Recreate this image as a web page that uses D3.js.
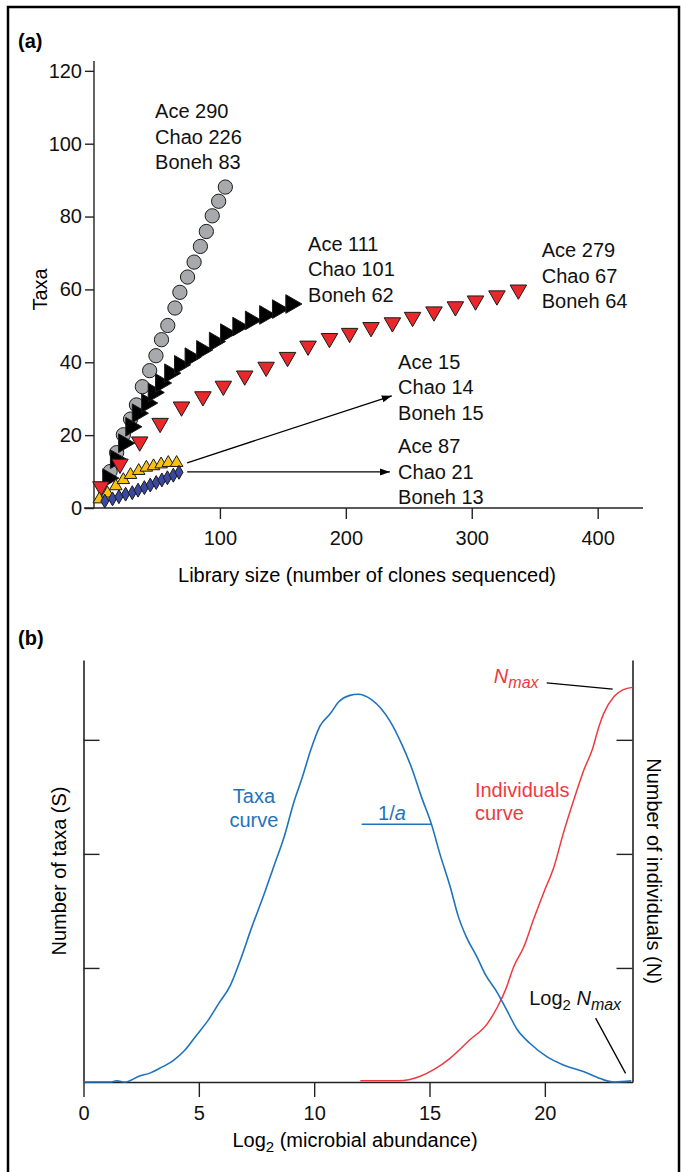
<!DOCTYPE html>
<html>
<head>
<meta charset="utf-8">
<script src="https://cdn.jsdelivr.net/npm/d3@7"></script>
<style>
  body { margin: 0; background: #fff; }
  svg text { font-family: 'Liberation Sans', Arial, Helvetica, sans-serif; }
</style>
</head>
<body>
<script>
// ---- panel (a): taxa vs library size, one array pair per library
const grayX = [12.8, 18, 23.3, 29, 33.7, 38.4, 44.2, 49.2, 53.6, 58.6, 64.3, 68.2, 74.3, 79.5, 84.5, 89.2, 93.9, 99, 104.3];
const grayY = [10, 15.2, 20.1, 24.4, 28.3, 33.3, 37.7, 41.8, 46.2, 50.1, 54.9, 59.2, 63.4, 67.5, 71.8, 75.9, 80.2, 84.2, 88.1];
const blackX = [11.2, 17.3, 23.8, 29.5, 34.7, 42.1, 47.3, 53.1, 60.4, 68.2, 76.6, 85.8, 95.9, 104.8, 114.5, 124.5, 135.8, 146, 156.6];
const blackY = [8.2, 13.4, 17.8, 22.3, 26, 28.8, 31.7, 34.3, 37, 39.3, 41.4, 43.4, 45.7, 48, 49.8, 51.5, 53, 54.6, 56];
const redX = [5.5, 20.6, 36.3, 52.5, 69.5, 86.5, 102.7, 119.7, 136.7, 153.7, 170, 187, 203, 220, 237, 253, 270, 287, 303, 320, 337];
const redY = [5.9, 12.1, 18.2, 23.3, 27.8, 30.6, 33.5, 36.3, 38.7, 41.4, 44.5, 46.6, 48, 49.6, 50.9, 52.4, 53.9, 55.3, 56.9, 58.3, 59.9];
const yellowX = [4.2, 10.7, 17.3, 23.3, 29, 35.5, 41.6, 47.3, 53.3, 59, 65.6];
const yellowY = [2.4, 4, 6, 7.7, 9.1, 10.2, 11.1, 11.5, 12, 12.4, 12.4];
const blueX = [8.6, 14.7, 19.8, 25.1, 30.4, 35, 40, 44.7, 49.4, 53.9, 58.3, 63, 67.5];
const blueY = [1.9, 2.5, 3.1, 3.8, 4.2, 4.9, 5.6, 6.3, 7, 7.7, 8.3, 9, 9.8];

const xTicksA = [100, 200, 300, 400];
const yTicksA = [0, 20, 40, 60, 80, 100, 120];

const estimates = [
  ["Ace 290", "Chao 226", "Boneh 83"],
  ["Ace 111", "Chao 101", "Boneh 62"],
  ["Ace 279", "Chao 67", "Boneh 64"],
  ["Ace 15", "Chao 14", "Boneh 15"],
  ["Ace 87", "Chao 21", "Boneh 13"]
];

// ---- panel (b): taxa and individuals curves along log2 abundance
const taxaX = [0, 0.7, 1.15, 1.45, 1.8, 2.4, 2.9, 3.3, 3.9, 4.4, 4.9, 5.4, 5.9, 6.35, 6.8, 7.3, 7.8, 8.25, 8.7, 9.1, 9.5, 9.85, 10.25, 10.7, 11.05, 11.55, 11.9, 12.5, 13.3, 13.8, 14.25, 14.65, 15.1, 15.45, 15.9, 16.25, 16.6, 17.05, 17.4, 17.95, 18.35, 18.8, 19.35, 20.1, 20.8, 21.7, 22.4, 23.0, 23.75];
const taxaY = [0, 0, 0, 0.01, 0, 0.05, 0.08, 0.12, 0.19, 0.28, 0.41, 0.54, 0.7, 0.84, 1.07, 1.36, 1.63, 1.89, 2.15, 2.44, 2.68, 2.91, 3.12, 3.23, 3.33, 3.39, 3.4, 3.35, 3.16, 2.96, 2.74, 2.5, 2.25, 2.0, 1.71, 1.45, 1.27, 1.1, 0.95, 0.78, 0.63, 0.46, 0.34, 0.22, 0.15, 0.09, 0.03, 0, 0.01];
const indivX = [12, 12.85, 13.65, 14.6, 15.2, 15.9, 16.75, 17.5, 17.95, 18.3, 18.65, 19.1, 19.5, 19.95, 20.4, 20.8, 21.25, 21.7, 22.05, 22.35, 22.55, 23.0, 23.4, 23.8];
const indivY = [0.01, 0.01, 0.01, 0.05, 0.11, 0.21, 0.37, 0.51, 0.66, 0.81, 1.01, 1.19, 1.42, 1.66, 1.89, 2.18, 2.47, 2.74, 2.91, 3.12, 3.23, 3.38, 3.44, 3.46];

const xTicksB = [0, 5, 10, 15, 20];
const yTicksB = [1, 2, 3];

const W = 683, H = 1172;
const FS = 20;

const svg = d3.select("body").append("svg")
  .attr("width", W)
  .attr("height", H);

svg.append("rect").attr("width", W).attr("height", H).attr("fill", "#fff");

// outer frame (open at the bottom, cut by the page)
svg.append("rect")
  .attr("x", 8).attr("y", 7)
  .attr("width", 671).attr("height", H + 20)
  .attr("fill", "none")
  .attr("stroke", "#000")
  .attr("stroke-width", 2.5);

const defs = svg.append("defs");
defs.append("marker")
  .attr("id", "arrow")
  .attr("viewBox", "0 0 10 10")
  .attr("refX", 10).attr("refY", 5)
  .attr("markerWidth", 10).attr("markerHeight", 10)
  .attr("markerUnits", "userSpaceOnUse")
  .attr("orient", "auto")
  .append("path")
  .attr("d", "M0,1.5 L10,5 L0,8.5 Z")
  .attr("fill", "#000");

// ================= panel (a) =================
const xA = d3.scaleLinear().domain([0, 436]).range([94, 643]);
const yA = d3.scaleLinear().domain([0, 122.7]).range([508, 61]);

const gA = svg.append("g");

gA.append("text")
  .attr("x", 18).attr("y", 48)
  .attr("font-size", FS).attr("font-weight", "bold")
  .text("(a)");

// axes
const axisA_y = gA.append("g")
  .attr("transform", `translate(${xA(0)},0)`)
  .call(d3.axisLeft(yA).tickValues(yTicksA).tickSize(9).tickPadding(3).tickSizeOuter(0));
const axisA_x = gA.append("g")
  .attr("transform", `translate(0,${yA(0)})`)
  .call(d3.axisBottom(xA).tickValues(xTicksA).tickSize(11).tickPadding(12).tickSizeOuter(0));
[axisA_x, axisA_y].forEach(ax => {
  ax.selectAll("text").attr("font-size", FS).attr("fill", "#111").attr("font-family", null);
  ax.selectAll("line").attr("stroke", "#222").attr("stroke-width", 1.4);
  ax.select(".domain").remove();
});
gA.append("line")
  .attr("x1", xA(0)).attr("x2", xA(0))
  .attr("y1", yA(122.7)).attr("y2", yA(0))
  .attr("stroke", "#222").attr("stroke-width", 1.4);
gA.append("line")
  .attr("x1", xA(-8)).attr("x2", xA(436))
  .attr("y1", yA(0)).attr("y2", yA(0))
  .attr("stroke", "#222").attr("stroke-width", 1.4);

gA.append("text")
  .attr("transform", `translate(47,${yA(60)}) rotate(-90)`)
  .attr("text-anchor", "middle")
  .attr("font-size", FS)
  .text("Taxa");
gA.append("text")
  .attr("x", 367).attr("y", 582)
  .attr("text-anchor", "middle")
  .attr("font-size", FS)
  .text("Library size (number of clones sequenced)");

// arrows from the two small libraries to their labels
const arrowsA = [
  { x1: 74, y1: 12.4, x2: 236.5, y2: 30.8 },
  { x1: 74, y1: 9.9, x2: 235, y2: 9.9 }
];
gA.selectAll("line.arrow")
  .data(arrowsA)
  .enter().append("line")
  .attr("class", "arrow")
  .attr("x1", d => xA(d.x1)).attr("y1", d => yA(d.y1))
  .attr("x2", d => xA(d.x2)).attr("y2", d => yA(d.y2))
  .attr("stroke", "#000").attr("stroke-width", 1.3)
  .attr("marker-end", "url(#arrow)");

// series, drawn back to front
const seriesA = [
  { xs: grayX, ys: grayY, type: d3.symbolCircle, size: 160, rot: 0, fill: "#a7a9ac" },
  { xs: blackX, ys: blackY, type: d3.symbolTriangle, size: 150, rot: 90, fill: "#000" },
  { xs: redX, ys: redY, type: d3.symbolTriangle, size: 118, rot: 180, fill: "#e8282b" },
  { xs: yellowX, ys: yellowY, type: d3.symbolTriangle, size: 68, rot: 0, fill: "#f8c211" },
  { xs: blueX, ys: blueY, type: d3.symbolDiamond, size: 56, rot: 0, fill: "#3a48a2" }
];

seriesA.forEach(s => {
  const pts = s.xs.map((x, i) => [x, s.ys[i]]);
  gA.append("g").selectAll("path")
    .data(pts)
    .enter().append("path")
    .attr("d", d3.symbol().type(s.type).size(s.size))
    .attr("transform", d => `translate(${xA(d[0])},${yA(d[1])}) rotate(${s.rot})`)
    .attr("fill", s.fill)
    .attr("stroke", "#1a1a1a")
    .attr("stroke-width", 1);
});

// richness estimate labels
const labelPosA = [
  { x: 48.5, y: 107 },
  { x: 170, y: 70.6 },
  { x: 355.6, y: 68.8 },
  { x: 241.5, y: 38.2 },
  { x: 241.5, y: 15 }
];
estimates.forEach((lines, i) => {
  const t = gA.append("text")
    .attr("x", xA(labelPosA[i].x))
    .attr("y", yA(labelPosA[i].y))
    .attr("font-size", FS)
    .attr("fill", "#111");
  lines.forEach((ln, j) => {
    t.append("tspan")
      .attr("x", xA(labelPosA[i].x))
      .attr("dy", j === 0 ? 0 : 25.5)
      .text(ln);
  });
});

// ================= panel (b) =================
const xB = d3.scaleLinear().domain([0, 23.8]).range([83.5, 632.5]);
const yB = d3.scaleLinear().domain([0, 3.7]).range([1082, 660]);

const gB = svg.append("g");

gB.append("text")
  .attr("x", 18).attr("y", 645)
  .attr("font-size", FS).attr("font-weight", "bold")
  .text("(b)");

const axisB_x = gB.append("g")
  .attr("transform", `translate(0,${yB(0)})`)
  .call(d3.axisBottom(xB).tickValues(xTicksB).tickSize(15).tickPadding(9).tickSizeOuter(0));
const axisB_l = gB.append("g")
  .attr("transform", `translate(${xB(0)},0)`)
  .call(d3.axisLeft(yB).tickValues(yTicksB).tickSize(-16).tickFormat("").tickSizeOuter(0));
const axisB_r = gB.append("g")
  .attr("transform", `translate(${xB(23.8)},0)`)
  .call(d3.axisRight(yB).tickValues(yTicksB).tickSize(-16).tickFormat("").tickSizeOuter(0));
[axisB_x, axisB_l, axisB_r].forEach(ax => {
  ax.selectAll("text").attr("font-size", FS).attr("fill", "#111").attr("font-family", null);
  ax.selectAll("line").attr("stroke", "#222").attr("stroke-width", 1.4);
  ax.select(".domain").attr("stroke", "#222").attr("stroke-width", 1.6);
});

// curves
const lineB = d3.line()
  .x(d => xB(d[0]))
  .y(d => yB(d[1]))
  .curve(d3.curveMonotoneX);

gB.append("path")
  .datum(indivX.map((x, i) => [x, indivY[i]]))
  .attr("d", lineB)
  .attr("fill", "none")
  .attr("stroke", "#ee3a3f")
  .attr("stroke-width", 1.5);

gB.append("path")
  .datum(taxaX.map((x, i) => [x, taxaY[i]]))
  .attr("d", lineB)
  .attr("fill", "none")
  .attr("stroke", "#1f73bd")
  .attr("stroke-width", 1.6);

// 1/a width marker
gB.append("line")
  .attr("x1", xB(12.06)).attr("x2", xB(15.1))
  .attr("y1", yB(2.26)).attr("y2", yB(2.26))
  .attr("stroke", "#1f73bd").attr("stroke-width", 1.6);
const inv = gB.append("text")
  .attr("x", xB(12.77)).attr("y", yB(2.3))
  .attr("font-size", FS).attr("fill", "#1f73bd");
inv.append("tspan").text("1/");
inv.append("tspan").attr("font-style", "italic").text("a");

// curve names
const taxaLbl = gB.append("text")
  .attr("text-anchor", "middle")
  .attr("font-size", FS).attr("fill", "#1f73bd");
["Taxa", "curve"].forEach((ln, j) => {
  taxaLbl.append("tspan")
    .attr("x", xB(7.39)).attr("y", yB(2.447) + j * 24)
    .text(ln);
});
const indLbl = gB.append("text")
  .attr("font-size", FS).attr("fill", "#ee3a3f");
["Individuals", "curve"].forEach((ln, j) => {
  indLbl.append("tspan")
    .attr("x", xB(16.97)).attr("y", yB(2.5) + j * 23)
    .text(ln);
});

// Nmax callout
const nmax = gB.append("text")
  .attr("x", xB(17.79)).attr("y", yB(3.5))
  .attr("font-size", FS).attr("fill", "#ee3a3f")
  .attr("font-style", "italic");
nmax.append("tspan").text("N");
nmax.append("tspan").attr("font-size", 16).attr("dy", 5).text("max");
gB.append("line")
  .attr("x1", xB(20.08)).attr("y1", yB(3.5))
  .attr("x2", xB(22.94)).attr("y2", yB(3.445))
  .attr("stroke", "#000").attr("stroke-width", 1.3);

// Log2 Nmax callout
const lg = gB.append("text")
  .attr("x", xB(19.32)).attr("y", yB(0.675))
  .attr("font-size", FS).attr("fill", "#111");
lg.append("tspan").text("Log");
lg.append("tspan").attr("font-size", 15).attr("dy", 5).text("2");
lg.append("tspan").attr("dy", -5).text(" ");
lg.append("tspan").attr("font-style", "italic").text("N");
lg.append("tspan").attr("font-style", "italic").attr("font-size", 16).attr("dy", 5).text("max");
gB.append("line")
  .attr("x1", xB(22.2)).attr("y1", yB(0.56))
  .attr("x2", xB(23.5)).attr("y2", yB(0.076))
  .attr("stroke", "#000").attr("stroke-width", 1.3);

// axis titles
gB.append("text")
  .attr("transform", `translate(66,${yB(1.85)}) rotate(-90)`)
  .attr("text-anchor", "middle")
  .attr("font-size", FS)
  .text("Number of taxa (S)");
gB.append("text")
  .attr("transform", `translate(647,${yB(1.85)}) rotate(90)`)
  .attr("text-anchor", "middle")
  .attr("font-size", FS)
  .text("Number of individuals (N)");

const xt = gB.append("text")
  .attr("x", 355).attr("y", 1147)
  .attr("text-anchor", "middle")
  .attr("font-size", FS);
xt.append("tspan").text("Log");
xt.append("tspan").attr("font-size", 15).attr("dy", 5).text("2");
xt.append("tspan").attr("dy", -5).text(" (microbial abundance)");
</script>
</body>
</html>
